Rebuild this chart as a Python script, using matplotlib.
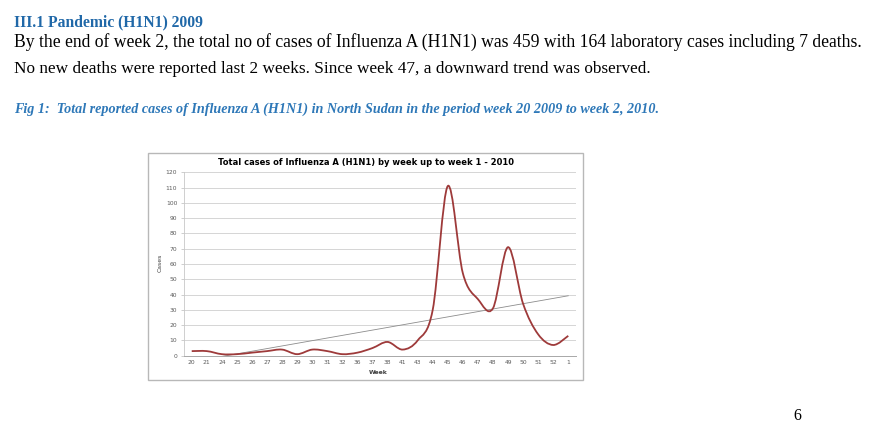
import numpy as np
import matplotlib
matplotlib.use("Agg")
import matplotlib.pyplot as plt
from matplotlib.path import Path
from matplotlib.patches import PathPatch, Rectangle

# ---- data ----
weeks = ["20", "21", "24", "25", "26", "27", "28", "29", "30", "31", "32", "36", "37",
         "38", "41", "43", "44", "45", "46", "47", "48", "49", "50", "51", "52", "1"]
cases = [3, 3, 1, 1, 2, 3, 4, 1, 4, 3, 1, 2, 5,
         9, 4, 10, 30, 111, 54, 37, 31, 71, 34, 14, 7, 13]
y_ticks = [0, 10, 20, 30, 40, 50, 60, 70, 80, 90, 100, 110, 120]

chart_title = "Total cases of Influenza A (H1N1) by week up to week 1 - 2010"
heading = "III.1 Pandemic (H1N1) 2009"
para1 = ("By the end of week 2, the total no of cases of Influenza A (H1N1) was 459 "
         "with 164 laboratory cases including 7 deaths.")
para2 = "No new deaths were reported last 2 weeks. Since week 47, a downward trend was observed."
caption = ("Fig 1:  Total reported cases of Influenza A (H1N1) in North Sudan in the "
           "period week 20 2009 to week 2, 2010.")
page_no = "6"

W, H = 888, 441
fig = plt.figure(figsize=(W / 100, H / 100), dpi=100)
fig.patch.set_facecolor("white")


def fx(px):
    return px / W


def fy(py):
    return 1 - py / H


serif = ["Liberation Serif", "DejaVu Serif"]
t_head = fig.text(fx(14), fy(26), heading, family=serif, weight="bold",
                  color="#2068a8", fontsize=11.5, va="baseline")
t_p1 = fig.text(fx(14), fy(47), para1, family=serif, color="black",
                fontsize=11.5, va="baseline")
t_p2 = fig.text(fx(14), fy(73), para2, family=serif, color="black",
                fontsize=11.5, va="baseline")
t_cap = fig.text(fx(14), fy(113), caption, family=serif, weight="bold",
                 style="italic", color="#2e78b8", fontsize=9.5, va="baseline")
t_pg = fig.text(fx(793), fy(420), page_no, family=serif, color="black",
                fontsize=11.5, va="baseline")

# fit text widths to the reference
r = fig.canvas.get_renderer()
for t, wtarget in [(t_head, 189), (t_p1, 851), (t_p2, 636), (t_cap, 647)]:
    bb = t.get_window_extent(r)
    t.set_fontsize(t.get_fontsize() * wtarget / bb.width)

# chart border
fig.patches.append(Rectangle((fx(148), fy(380)), fx(583) - fx(148), fy(153) - fy(380),
                             transform=fig.transFigure, fill=False,
                             edgecolor="#b8b8b8", linewidth=1.0))

# axes
left, right, top, bottom = 184.2, 575.8, 172.3, 355.7
ax = fig.add_axes([fx(left), fy(bottom), fx(right) - fx(left), fy(top) - fy(bottom)])
ax.set_facecolor("white")
x = np.arange(len(weeks))
ax.set_xlim(-0.5, len(weeks) - 0.5)
ax.set_ylim(0, 120)
ax.set_yticks(y_ticks)
ax.set_yticklabels([str(v) for v in y_ticks])
ax.set_xticks(x)
ax.set_xticklabels(weeks)
ax.tick_params(axis="both", labelsize=4.3, colors="#5a5a5a", length=0, pad=3)
ax.tick_params(axis="y", length=2, color="#bbbbbb", width=0.5)
ax.grid(axis="y", color="#cfcfcf", linewidth=0.6)
ax.set_axisbelow(True)
for s in ["top", "right"]:
    ax.spines[s].set_visible(False)
ax.spines["left"].set_color("#c8c8c8")
ax.spines["left"].set_linewidth(0.6)
ax.spines["bottom"].set_color("#a8a8a8")
ax.spines["bottom"].set_linewidth(0.7)

# smoothed line (Catmull-Rom via cubic Bezier path)
pts = np.column_stack([x, np.array(cases, dtype=float)])
verts = [tuple(pts[0])]
codes = [Path.MOVETO]
n = len(pts)
for i in range(n - 1):
    p0 = pts[i - 1] if i > 0 else pts[i]
    p1 = pts[i]
    p2 = pts[i + 1]
    p3 = pts[i + 2] if i + 2 < n else pts[i + 1]
    c1 = p1 + (p2 - p0) / 6.0
    c2 = p2 - (p3 - p1) / 6.0
    verts += [tuple(c1), tuple(c2), tuple(p2)]
    codes += [Path.CURVE4] * 3
ax.add_patch(PathPatch(Path(verts, codes), fill=False, edgecolor="#9e3a3a",
                       linewidth=1.3, zorder=3))

# linear trend
coef = np.polyfit(x, cases, 1)
ax.plot(x, np.polyval(coef, x), color="#8c8c8c", linewidth=0.6, zorder=2)

fig.text(fx(365.5), fy(162.5), chart_title, ha="center", va="center",
         fontsize=6.0, weight="bold", color="black")
fig.text(fx(378), fy(372.5), "Week", ha="center", va="center",
         fontsize=4.4, weight="bold", color="#404040")
fig.text(fx(160), fy(263), "Cases", ha="center", va="center", rotation=90,
         fontsize=4.4, color="#404040")

fig.savefig("out.png", dpi=100, facecolor="white")
